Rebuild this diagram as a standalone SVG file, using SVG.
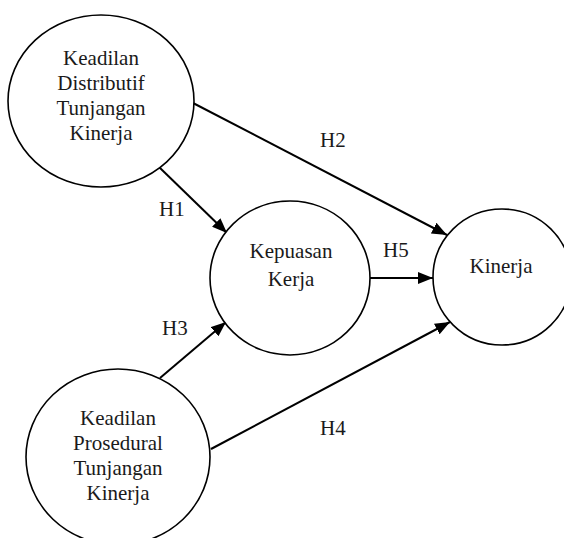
<svg xmlns="http://www.w3.org/2000/svg" width="564" height="538" viewBox="0 0 564 538">
<style>
.node{fill:#fff;stroke:#000;stroke-width:1.6}
text{font-family:'Liberation Serif','DejaVu Serif',serif;font-size:21px;fill:#1a1a1a}
.t{text-anchor:middle}
.c{stroke:#000;stroke-width:2;fill:none;marker-end:url(#ah)}
</style>
<defs>
<marker id="ah" markerUnits="userSpaceOnUse" markerWidth="15" markerHeight="12" refX="15" refY="6" orient="auto">
<path d="M0,0 L15,6 L0,12 z" fill="#000"/>
</marker>
</defs>
<rect width="564" height="538" fill="#fff"/>
<g id="connectors" font-family="Liberation Serif, serif">
<line class="c" x1="193" y1="103" x2="447" y2="235"/>
<line class="c" x1="159" y1="167" x2="227" y2="233"/>
<line class="c" x1="370" y1="278" x2="433" y2="278"/>
<line class="c" x1="160" y1="378" x2="226" y2="322"/>
<line class="c" x1="211" y1="449" x2="450" y2="322"/>
<text x="320" y="147">H2</text>
<text x="159" y="216">H1</text>
<text x="383" y="257">H5</text>
<text x="162" y="335">H3</text>
<text x="320" y="435">H4</text>
</g>
<g id="kdtk">
<ellipse class="node" cx="101" cy="101" rx="93" ry="86"/>
<text class="t" x="101" y="65">Keadilan</text>
<text class="t" x="101" y="90">Distributif</text>
<text class="t" x="101" y="115">Tunjangan</text>
<text class="t" x="101" y="140">Kinerja</text>
</g>
<g id="kepuasan">
<ellipse class="node" cx="290" cy="278" rx="80" ry="77"/>
<text class="t" x="291" y="258">Kepuasan</text>
<text class="t" x="291" y="286">Kerja</text>
</g>
<g id="kinerja">
<ellipse class="node" cx="502" cy="277" rx="69" ry="68"/>
<text class="t" x="501" y="273">Kinerja</text>
</g>
<g id="kptk">
<ellipse class="node" cx="118" cy="457" rx="92" ry="88"/>
<text class="t" x="118" y="425">Keadilan</text>
<text class="t" x="118" y="450">Prosedural</text>
<text class="t" x="118" y="475">Tunjangan</text>
<text class="t" x="118" y="500">Kinerja</text>
</g>
</svg>
